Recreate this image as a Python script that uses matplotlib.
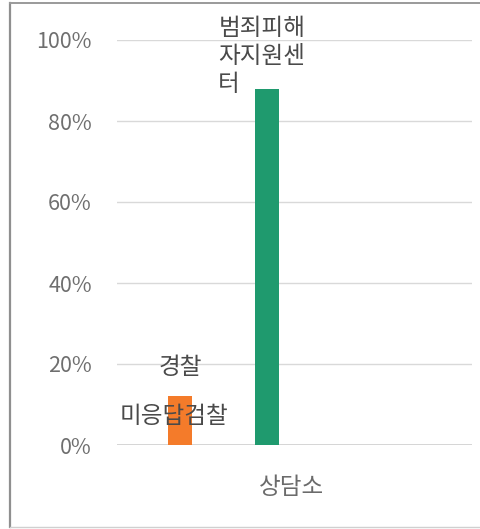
import matplotlib
matplotlib.use("Agg")
import matplotlib.pyplot as plt
from matplotlib.lines import Line2D

plt.rcParams['font.family'] = ['Noto Sans CJK KR', 'DejaVu Sans']

# response shares (%)
bar_pos = [0, 1]
bar_vals = [12, 88]
bar_colors = ['#f47b2a', '#1f9a6e']
yticks = [0, 20, 40, 60, 80, 100]
ytick_labels = ['0%', '20%', '40%', '60%', '80%', '100%']
cat_label = '상담소'

fig = plt.figure(figsize=(4.81, 5.29), dpi=100)
ax = fig.add_axes([117 / 481, 1 - 445 / 529, (472 - 117) / 481, (445 - 40) / 529])

ax.bar(bar_pos, bar_vals, width=0.28, color=bar_colors, zorder=3)

ax.set_xlim(-0.73, 3.37)
ax.set_ylim(0, 100)
ax.set_yticks(yticks)
ax.set_yticklabels(ytick_labels, fontsize=15.5, color='#6f6f6f')
ax.tick_params(axis='y', length=0, pad=18)
ax.set_xticks([])
ax.yaxis.grid(True, color='#d9d9d9', linewidth=1, zorder=0)
ax.set_axisbelow(True)
for s in ax.spines.values():
    s.set_visible(False)
ax.axhline(0, color='#d0d0d0', linewidth=1.2, zorder=1)

txt = '#4a4a4a'
fs = 17
ax.text(0, 19.1, '경찰', ha='center', va='center', fontsize=fs, color=txt, zorder=4)
ax.text(-0.07, 7.0, '미응답검찰', ha='center', va='center', fontsize=fs, color=txt, zorder=4)
ax.text(0.44, 96.0, '범죄피해\n자지원센\n터', ha='left', va='center', fontsize=fs,
        color=txt, linespacing=1.28, zorder=4)
ax.text(1.29, -10.6, cat_label, ha='center', va='center', fontsize=fs, color='#6b6b6b',
        clip_on=False)

# outer frame
fig.add_artist(Line2D([10 / 481, 10 / 481], [1 - 3 / 529, 1 - 527 / 529], color='#8f8f8f', lw=1.6))
fig.add_artist(Line2D([10 / 481, 481 / 481], [1 - 3 / 529, 1 - 3 / 529], color='#9a9a9a', lw=1.4))
fig.add_artist(Line2D([10 / 481, 481 / 481], [1 - 527 / 529, 1 - 527 / 529], color='#d0d0d0', lw=1.0))

fig.savefig('out.png', dpi=100)
